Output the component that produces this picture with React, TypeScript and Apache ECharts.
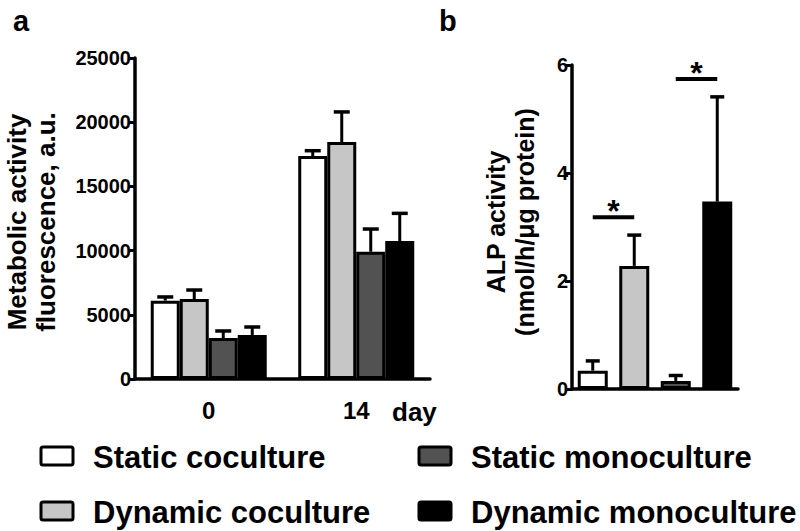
import React, { useEffect, useRef } from 'react';
import * as echarts from 'echarts';

// ---------- data ----------
const days = ['0', '14'];
const seriesNames = ['Static coculture', 'Dynamic coculture', 'Static monoculture', 'Dynamic monoculture'];
const seriesColors = ['#ffffff', '#c6c6c6', '#525252', '#000000'];

// panel a: metabolic activity (mean, SD) for day 0 and day 14
const staticCoculture = [6100, 17370];
const dynamicCoculture = [6230, 18460];
const staticMonoculture = [3190, 9910];
const dynamicMonoculture = [3430, 10750];
const staticCocultureSd = [290, 410];
const dynamicCocultureSd = [700, 2340];
const staticMonocultureSd = [550, 1770];
const dynamicMonocultureSd = [620, 2150];

// panel b: ALP activity (mean, SD)
const alpMean = [0.34, 2.28, 0.15, 3.47];
const alpSd = [0.18, 0.57, 0.1, 1.94];
// significance brackets: [from bar, to bar, height]
const sigFrom = [0, 2];
const sigTo = [1, 3];
const sigHeight = [3.18, 5.74];

const FONT = '"Liberation Sans", Arial, Helvetica, sans-serif';
const BAR_W_A = 29;

export default function App() {
  const ref = useRef<HTMLDivElement>(null);

  useEffect(() => {
    if (!ref.current) return;
    const chart = echarts.init(ref.current, undefined, { renderer: 'svg' });

    const means = [staticCoculture, dynamicCoculture, staticMonoculture, dynamicMonoculture];
    const sds = [staticCocultureSd, dynamicCocultureSd, staticMonocultureSd, dynamicMonocultureSd];

    const errDataA: number[][] = [];
    means.forEach((m, k) => m.forEach((v, c) => errDataA.push([c, v, sds[k][c], k])));
    const errDataB = alpMean.map((v, i) => [i, v, alpSd[i]]);
    const sigData = sigFrom.map((f, i) => [f, sigTo[i], sigHeight[i]]);

    const axisLine = { show: true, lineStyle: { color: '#000', width: 3.5 } };
    const axisTick = { show: true, length: 7, lineStyle: { color: '#000', width: 3 } };
    const tickLabel = {
      color: '#000',
      fontSize: 20,
      fontWeight: 'bold' as const,
      fontFamily: FONT,
      margin: 4,
      formatter: (v: number) => String(v),
    };

    const errRender = (offsetFn: (k: number) => number, cap: number) => (params: any, api: any) => {
      const c = api.value(0);
      const m = api.value(1);
      const s = api.value(2);
      const k = api.value(3);
      const base = api.coord([c, m]);
      const top = api.coord([c, m + s]);
      const cx = base[0] + offsetFn(k);
      return {
        type: 'group',
        children: [
          { type: 'line', shape: { x1: cx, y1: base[1], x2: cx, y2: top[1] }, style: { stroke: '#000', lineWidth: 3 } },
          { type: 'line', shape: { x1: cx - cap, y1: top[1], x2: cx + cap, y2: top[1] }, style: { stroke: '#000', lineWidth: 3.5 } },
        ],
      };
    };

    const option: any = {
      animation: false,
      backgroundColor: '#ffffff',
      grid: [
        { left: 135, top: 58, width: 295, height: 321, containLabel: false },
        { left: 572, top: 65, width: 166, height: 324, containLabel: false },
      ],
      xAxis: [
        {
          type: 'category',
          gridIndex: 0,
          data: days,
          axisLine,
          axisTick: { show: false },
          axisLabel: { color: '#000', fontSize: 24, fontWeight: 'bold', fontFamily: FONT, margin: 19 },
        },
        {
          type: 'category',
          gridIndex: 1,
          data: seriesNames,
          axisLine,
          axisTick: { show: false },
          axisLabel: { show: false },
        },
      ],
      yAxis: [
        {
          type: 'value',
          gridIndex: 0,
          min: 0,
          max: 25000,
          interval: 5000,
          axisLine,
          axisTick,
          splitLine: { show: false },
          axisLabel: tickLabel,
        },
        {
          type: 'value',
          gridIndex: 1,
          min: 0,
          max: 6,
          interval: 2,
          axisLine,
          axisTick,
          splitLine: { show: false },
          axisLabel: tickLabel,
        },
      ],
      series: [
        ...means.map((m, k) => ({
          type: 'bar',
          name: seriesNames[k],
          xAxisIndex: 0,
          yAxisIndex: 0,
          data: m,
          barWidth: BAR_W_A,
          barGap: '0%',
          itemStyle: { color: seriesColors[k], borderColor: '#000', borderWidth: 3 },
          z: 2,
        })),
        {
          type: 'custom',
          name: 'err-a',
          xAxisIndex: 0,
          yAxisIndex: 0,
          data: errDataA,
          encode: { x: 0, y: 1 },
          renderItem: errRender((k) => (k - 1.5) * BAR_W_A, 8),
          z: 3,
        },
        {
          type: 'bar',
          name: 'ALP activity',
          xAxisIndex: 1,
          yAxisIndex: 1,
          data: alpMean.map((v, i) => ({
            value: v,
            itemStyle: { color: seriesColors[i], borderColor: '#000', borderWidth: 3 },
          })),
          barWidth: 30,
          z: 2,
        },
        {
          type: 'custom',
          name: 'err-b',
          xAxisIndex: 1,
          yAxisIndex: 1,
          data: errDataB.map((d) => [d[0], d[1], d[2], 0]),
          encode: { x: 0, y: 1 },
          renderItem: errRender(() => 0, 7),
          z: 3,
        },
        {
          type: 'custom',
          name: 'sig',
          xAxisIndex: 1,
          yAxisIndex: 1,
          data: sigData,
          encode: { x: [0, 1], y: 2 },
          renderItem: (params: any, api: any) => {
            const p1 = api.coord([api.value(0), api.value(2)]);
            const p2 = api.coord([api.value(1), api.value(2)]);
            return {
              type: 'group',
              children: [
                { type: 'line', shape: { x1: p1[0], y1: p1[1], x2: p2[0], y2: p2[1] }, style: { stroke: '#000', lineWidth: 4 } },
                {
                  type: 'text',
                  x: (p1[0] + p2[0]) / 2,
                  y: p1[1] - 6,
                  style: {
                    text: '*',
                    fill: '#000',
                    fontSize: 32,
                    fontWeight: 'bold',
                    fontFamily: FONT,
                    align: 'center',
                    verticalAlign: 'middle',
                  },
                },
              ],
            };
          },
          z: 3,
        },
      ],
      graphic: [
        { type: 'text', left: 13, top: 6, style: { text: 'a', fill: '#000', fontSize: 29, fontWeight: 'bold', fontFamily: FONT } },
        { type: 'text', left: 439, top: 6, style: { text: 'b', fill: '#000', fontSize: 29, fontWeight: 'bold', fontFamily: FONT } },
        {
          type: 'text',
          x: 31,
          y: 222,
          rotation: Math.PI / 2,
          style: {
            text: 'Metabolic activity\nfluorescence, a.u.',
            fill: '#000',
            fontSize: 26,
            fontWeight: 'bold',
            fontFamily: FONT,
            lineHeight: 29,
            align: 'center',
            verticalAlign: 'middle',
          },
        },
        {
          type: 'text',
          x: 510,
          y: 222,
          rotation: Math.PI / 2,
          style: {
            text: 'ALP activity\n(nmol/h/\u03bcg protein)',
            fill: '#000',
            fontSize: 25,
            fontWeight: 'bold',
            fontFamily: FONT,
            lineHeight: 29,
            align: 'center',
            verticalAlign: 'middle',
          },
        },
        {
          type: 'text',
          x: 392,
          y: 412,
          style: { text: 'day', fill: '#000', fontSize: 26, fontWeight: 'bold', fontFamily: FONT, align: 'left', verticalAlign: 'middle' },
        },
        // legend (2 x 2, column-major)
        ...seriesNames.map((name, i) => {
          const col = Math.floor(i / 2);
          const row = i % 2;
          const bx = col === 0 ? 41 : 419;
          const cy = row === 0 ? 456 : 511;
          return {
            type: 'group',
            children: [
              {
                type: 'rect',
                shape: { x: bx, y: cy - 9, width: 32, height: 18, r: 2 },
                style: { fill: seriesColors[i], stroke: '#000', lineWidth: 3 },
              },
              {
                type: 'text',
                x: bx + 52,
                y: cy + 1,
                style: { text: name, fill: '#000', fontSize: 31, fontWeight: 'bold', fontFamily: FONT, align: 'left', verticalAlign: 'middle' },
              },
            ],
          };
        }),
      ],
    };

    chart.setOption(option);
    return () => chart.dispose();
  }, []);

  return <div ref={ref} style={{ position: 'absolute', left: 0, top: 0, width: 800, height: 531, background: '#fff' }} />;
}
